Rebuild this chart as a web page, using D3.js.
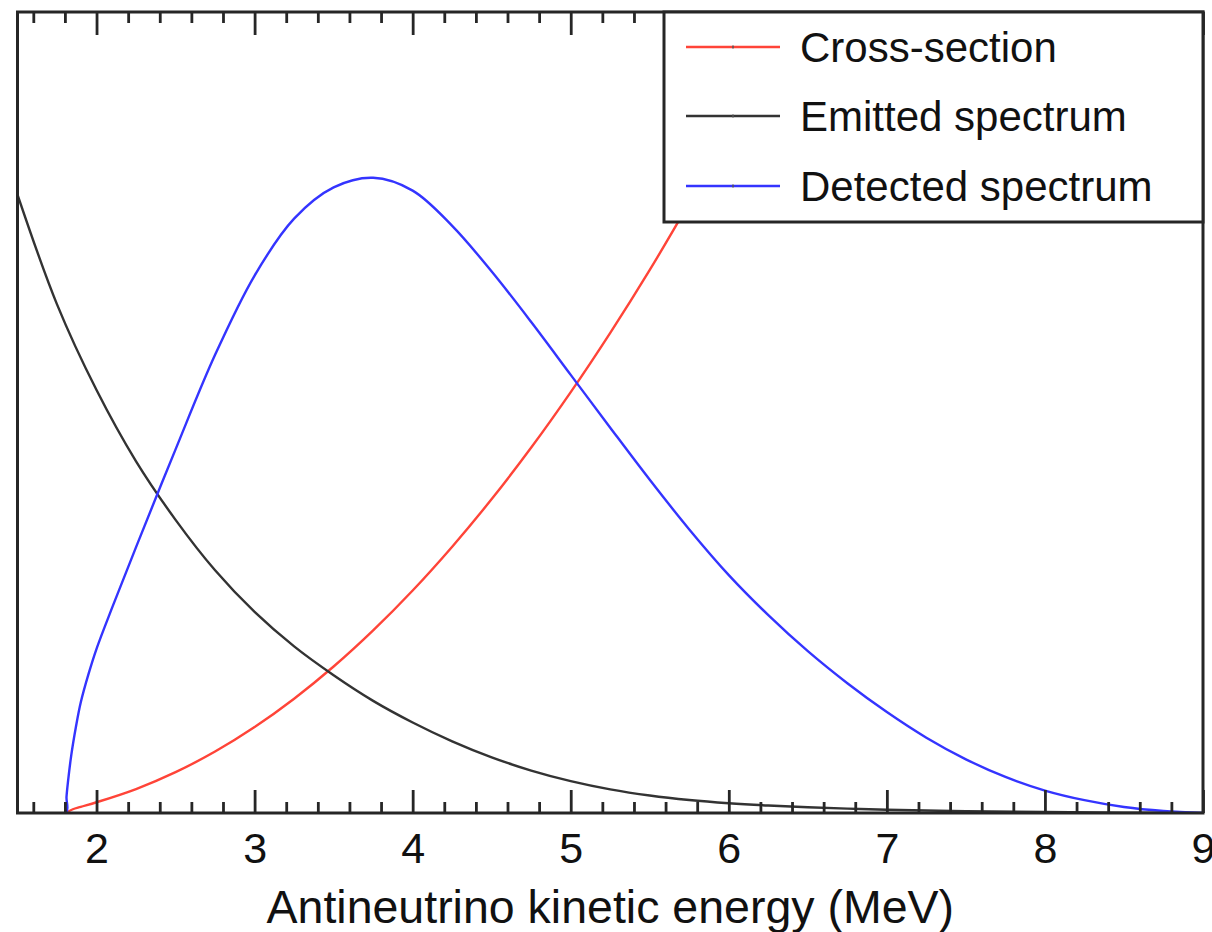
<!DOCTYPE html>
<html>
<head>
<meta charset="utf-8">
<script src="https://cdn.jsdelivr.net/npm/d3@7"></script>
<style>
  html, body { margin: 0; padding: 0; background: #fff; }
  svg { display: block; }
  text { font-family: "Liberation Sans", Arial, Helvetica, sans-serif; fill: #111; }
</style>
</head>
<body>
<svg id="chart" width="1212" height="932"></svg>
<script>
// ---- Data (y is in arbitrary units, 0..1 of plot height) ----
const xTickValues = [2, 3, 4, 5, 6, 7, 8, 9];
const xTickLabels = ["2", "3", "4", "5", "6", "7", "8", "9"];
const xTitle = "Antineutrino kinetic energy (MeV)";
const seriesNames = ["Cross-section", "Emitted spectrum", "Detected spectrum"];
const seriesColors = ["#ff4438", "#333333", "#3434ff"];

const crossEnergy = [1.806, 1.85, 1.9, 2.0, 2.25, 2.5, 2.75, 3.0, 3.25, 3.5, 3.75, 4.0, 4.25, 4.5, 4.75, 5.0, 5.25, 5.5, 5.75, 6.0, 6.25, 6.5];
const crossValue  = [0, 0.0047, 0.0077, 0.0134, 0.0299, 0.051, 0.0767, 0.1073, 0.1427, 0.1829, 0.228, 0.2778, 0.3325, 0.3919, 0.4562, 0.5254, 0.5994, 0.678, 0.762, 0.850, 0.9435, 1.0417];

const emittedEnergy = [1.5, 1.75, 2.0, 2.25, 2.5, 2.75, 3.0, 3.25, 3.5, 3.75, 4.0, 4.25, 4.5, 4.75, 5.0, 5.25, 5.5, 5.75, 6.0, 6.25, 6.5, 6.75, 7.0, 7.5, 8.0, 8.5, 9.0];
const emittedValue  = [0.772, 0.635, 0.528, 0.439, 0.366, 0.303, 0.251, 0.208, 0.172, 0.140, 0.113, 0.0895, 0.0695, 0.053, 0.0398, 0.0295, 0.0218, 0.0162, 0.0122, 0.0093, 0.0071, 0.0054, 0.0041, 0.0023, 0.0012, 0.0005, 0.0002];

const detectedEnergy = [1.5, 1.806, 1.81, 1.82, 1.84, 1.87, 1.9, 1.95, 2.0, 2.1, 2.25, 2.5, 2.75, 3.0, 3.25, 3.5, 3.75, 4.0, 4.25, 4.5, 4.75, 5.0, 5.25, 5.5, 5.75, 6.0, 6.25, 6.5, 6.75, 7.0, 7.25, 7.5, 7.75, 8.0, 8.25, 8.5, 8.75, 9.0];
const detectedValue  = [0, 0, 0.02, 0.04, 0.072, 0.108, 0.138, 0.174, 0.205, 0.257, 0.332, 0.454, 0.572, 0.671, 0.742, 0.781, 0.793, 0.777, 0.733, 0.676, 0.613, 0.547, 0.481, 0.416, 0.354, 0.297, 0.247, 0.202, 0.162, 0.126, 0.094, 0.067, 0.045, 0.028, 0.016, 0.0075, 0.0025, 0];

// ---- Layout ----
const plot = { left: 17.5, right: 1203, top: 12, bottom: 813 };
const svg = d3.select("#chart");

const x = d3.scaleLinear().domain([1.5, 9]).range([plot.left, plot.right]);
const y = d3.scaleLinear().domain([0, 1]).range([plot.bottom, plot.top]);

svg.append("defs").append("clipPath").attr("id", "clip")
  .append("rect")
  .attr("x", plot.left).attr("y", plot.top)
  .attr("width", plot.right - plot.left).attr("height", plot.bottom - plot.top);

const zip = (xs, ys) => xs.map((e, i) => [e, ys[i]]);
const line = d3.line().x(d => x(d[0])).y(d => y(Math.max(0, d[1]))).curve(d3.curveCatmullRom.alpha(0.5));

const curves = svg.append("g").attr("clip-path", "url(#clip)");
const data = [zip(crossEnergy, crossValue), zip(emittedEnergy, emittedValue), zip(detectedEnergy, detectedValue)];

// ticks (bottom pointing up, top pointing down)
const minorTicks = d3.range(16, 91, 2).map(v => v / 10).filter(v => !xTickValues.includes(v));
const axisColor = "#262626";

const bottomMajor = d3.axisBottom(x).tickValues(xTickValues).tickSizeInner(-23).tickSizeOuter(0).tickFormat((d, i) => xTickLabels[i]);
const bottomMinor = d3.axisBottom(x).tickValues(minorTicks).tickSizeInner(-11).tickSizeOuter(0).tickFormat("");
const topMajor = d3.axisTop(x).tickValues(xTickValues).tickSizeInner(-23).tickSizeOuter(0).tickFormat("");
const topMinor = d3.axisTop(x).tickValues(minorTicks).tickSizeInner(-11).tickSizeOuter(0).tickFormat("");

function styleAxis(g) {
  g.select(".domain").remove();
  g.selectAll(".tick line").attr("stroke", axisColor).attr("stroke-width", 2.8);
}

// curves
data.forEach((d, i) => {
  curves.append("path")
    .datum(d)
    .attr("fill", "none")
    .attr("stroke", seriesColors[i])
    .attr("stroke-width", 2.4)
    .attr("stroke-linejoin", "round")
    .attr("d", line);
});

const gb = svg.append("g").attr("transform", `translate(0,${plot.bottom})`).call(bottomMajor).call(styleAxis);
gb.selectAll(".tick text").attr("font-size", 43).attr("fill", "#111")
  .attr("font-family", "Liberation Sans, Arial, sans-serif").attr("dy", null).attr("y", 50);
svg.append("g").attr("transform", `translate(0,${plot.bottom})`).call(bottomMinor).call(styleAxis);
svg.append("g").attr("transform", `translate(0,${plot.top})`).call(topMajor).call(styleAxis);
svg.append("g").attr("transform", `translate(0,${plot.top})`).call(topMinor).call(styleAxis);

// frame
svg.append("rect")
  .attr("x", plot.left).attr("y", plot.top)
  .attr("width", plot.right - plot.left).attr("height", plot.bottom - plot.top)
  .attr("fill", "none").attr("stroke", axisColor).attr("stroke-width", 3);

// x title
svg.append("text")
  .attr("x", (plot.left + plot.right) / 2)
  .attr("y", 923)
  .attr("text-anchor", "middle")
  .attr("font-size", 46.5)
  .text(xTitle);

// legend
const legend = svg.append("g");
legend.append("rect")
  .attr("x", 664).attr("y", plot.top)
  .attr("width", plot.right - 664).attr("height", 222 - plot.top)
  .attr("fill", "#fff").attr("stroke", axisColor).attr("stroke-width", 3);
const legendY = [47, 116, 186];
seriesNames.forEach((name, i) => {
  legend.append("line")
    .attr("x1", 686).attr("x2", 780)
    .attr("y1", legendY[i]).attr("y2", legendY[i])
    .attr("stroke", seriesColors[i]).attr("stroke-width", 2.6);
  legend.append("line")
    .attr("x1", 733).attr("x2", 733)
    .attr("y1", legendY[i] - 1.5).attr("y2", legendY[i] + 1.5)
    .attr("stroke", "#555").attr("stroke-width", 1.5);
  legend.append("text")
    .attr("x", 800).attr("y", legendY[i] + 15)
    .attr("font-size", 42)
    .text(name);
});
</script>
</body>
</html>
